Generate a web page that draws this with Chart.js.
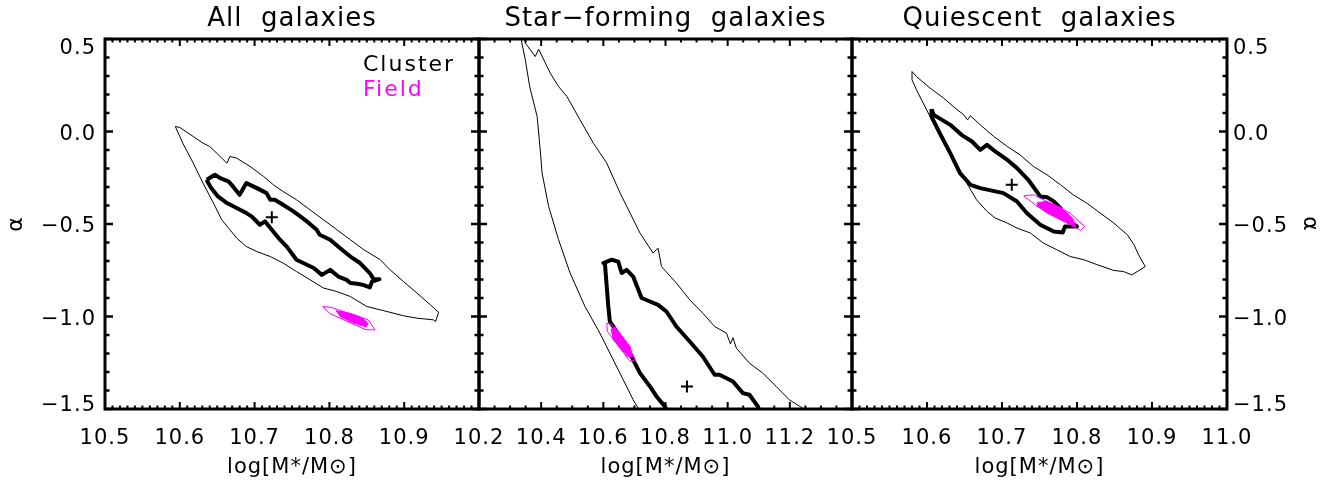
<!DOCTYPE html>
<html>
<head>
<meta charset="utf-8">
<script src="https://cdn.jsdelivr.net/npm/chart.js@4.4.1/dist/chart.umd.min.js"></script>
<style>
  body { margin: 0; background: #fff; }
  #wrap { position: relative; width: 1337px; height: 485px; }
  #wrap canvas { position: absolute; left: 0; top: 0; }
</style>
</head>
<body>
<div id="wrap">
  <canvas id="chart-all" width="1337" height="485"></canvas>
  <canvas id="chart-sf" width="1337" height="485"></canvas>
  <canvas id="chart-q" width="1337" height="485"></canvas>
</div>
<script>
// axis ticks
const xTicksNarrow = [10.5, 10.6, 10.7, 10.8, 10.9, 11.0];
const xTicksWide = [10.2, 10.4, 10.6, 10.8, 11.0, 11.2, 11.4];
const yTicks = [-1.5, -1.0, -0.5, 0.0, 0.5];

// All galaxies: cluster contours [logM, alpha]
const allClusterOuter = [
  [10.594, 0.027], [10.600, 0.022], [10.618, -0.027], [10.631, -0.063], [10.640, -0.081],
  [10.647, -0.108], [10.656, -0.144], [10.663, -0.171], [10.667, -0.135], [10.676, -0.144],
  [10.694, -0.189], [10.712, -0.243], [10.725, -0.288], [10.738, -0.324], [10.756, -0.369],
  [10.774, -0.423], [10.792, -0.477], [10.810, -0.531], [10.828, -0.585], [10.846, -0.639],
  [10.868, -0.693], [10.881, -0.747], [10.899, -0.811], [10.917, -0.873], [10.935, -0.937],
  [10.946, -0.978], [10.942, -1.027], [10.939, -1.018], [10.917, -1.009], [10.899, -0.996],
  [10.872, -0.968], [10.850, -0.946], [10.828, -0.892], [10.810, -0.865], [10.792, -0.846],
  [10.774, -0.801], [10.756, -0.757], [10.738, -0.711], [10.721, -0.676], [10.703, -0.649],
  [10.689, -0.622], [10.676, -0.576], [10.667, -0.531], [10.656, -0.477], [10.645, -0.387],
  [10.631, -0.279], [10.618, -0.171], [10.604, -0.063]
];
const allClusterInner = [
  [10.636, -0.261], [10.647, -0.234], [10.654, -0.252], [10.665, -0.270], [10.671, -0.297],
  [10.680, -0.342], [10.689, -0.279], [10.703, -0.306], [10.716, -0.333], [10.721, -0.369],
  [10.727, -0.369], [10.738, -0.396], [10.752, -0.432], [10.770, -0.486], [10.783, -0.531],
  [10.787, -0.558], [10.801, -0.585], [10.814, -0.630], [10.828, -0.676], [10.841, -0.711],
  [10.854, -0.765], [10.859, -0.798], [10.867, -0.798], [10.857, -0.811], [10.854, -0.843],
  [10.845, -0.829], [10.837, -0.823], [10.828, -0.819], [10.823, -0.802], [10.812, -0.784],
  [10.801, -0.748], [10.790, -0.775], [10.779, -0.738], [10.765, -0.711], [10.756, -0.693],
  [10.743, -0.622], [10.732, -0.576], [10.723, -0.531], [10.714, -0.486], [10.707, -0.504],
  [10.696, -0.459], [10.689, -0.441], [10.676, -0.414], [10.663, -0.387], [10.651, -0.351],
  [10.642, -0.306], [10.637, -0.270]
];
const allClusterBest = [[10.723, -0.463]];
const allFieldOuter = [
  [10.791, -0.946], [10.802, -0.950], [10.852, -1.018], [10.861, -1.072], [10.849, -1.072], [10.801, -0.985]
];
const allFieldInner = [
  [10.809, -0.969], [10.828, -0.983], [10.844, -1.007], [10.852, -1.039], [10.849, -1.056],
  [10.831, -1.034], [10.815, -1.002]
];

// Star-forming galaxies
const sfClusterOuterLeft = [
  [10.333, 0.55], [10.338, 0.478], [10.349, 0.388], [10.363, 0.243], [10.387, 0.081],
  [10.397, -0.099], [10.403, -0.225], [10.424, -0.405], [10.456, -0.585], [10.493, -0.765],
  [10.541, -0.946], [10.589, -1.090], [10.621, -1.198], [10.664, -1.342], [10.696, -1.450],
  [10.702, -1.468], [10.712, -1.495], [10.720, -1.56]
];
const sfClusterOuterRight = [
  [11.250, -1.56], [11.241, -1.495], [11.198, -1.450], [11.156, -1.378], [11.113, -1.306],
  [11.070, -1.252], [11.028, -1.171], [11.017, -1.115], [11.009, -1.148], [10.996, -1.090],
  [10.958, -1.054], [10.920, -0.982], [10.878, -0.910], [10.835, -0.819], [10.787, -0.730],
  [10.776, -0.630], [10.760, -0.657], [10.718, -0.549], [10.686, -0.441], [10.654, -0.333],
  [10.611, -0.171], [10.568, -0.063], [10.525, 0.063], [10.483, 0.189], [10.456, 0.243],
  [10.429, 0.316], [10.392, 0.445], [10.381, 0.405], [10.349, 0.478], [10.343, 0.55]
];
const sfClusterInner = [
  [10.820, -1.56], [10.798, -1.486], [10.771, -1.432], [10.750, -1.378], [10.718, -1.306],
  [10.696, -1.234], [10.675, -1.162], [10.643, -1.081], [10.621, -1.027], [10.616, -0.946],
  [10.605, -0.711], [10.600, -0.711], [10.627, -0.693], [10.648, -0.703], [10.659, -0.765],
  [10.675, -0.748], [10.696, -0.784], [10.723, -0.900], [10.750, -0.919], [10.776, -0.937],
  [10.803, -0.973], [10.835, -1.054], [10.878, -1.135], [10.920, -1.216], [10.958, -1.315],
  [10.974, -1.315], [11.017, -1.351], [11.049, -1.414], [11.070, -1.423], [11.097, -1.486],
  [11.115, -1.56]
];
const sfClusterBest = [[10.869, -1.378]];
const sfFieldOuter = [
  [10.611, -1.036], [10.627, -1.045], [10.696, -1.207], [10.702, -1.234], [10.686, -1.243], [10.613, -1.081]
];
const sfFieldInner = [
  [10.625, -1.068], [10.637, -1.057], [10.686, -1.162], [10.694, -1.216], [10.680, -1.219], [10.632, -1.126]
];

// Quiescent galaxies
const qClusterOuter = [
  [10.580, 0.324], [10.586, 0.297], [10.604, 0.235], [10.622, 0.181], [10.635, 0.135],
  [10.649, 0.090], [10.654, 0.063], [10.658, 0.085], [10.671, 0.036], [10.689, -0.027],
  [10.707, -0.081], [10.724, -0.126], [10.742, -0.189], [10.760, -0.234], [10.778, -0.288],
  [10.795, -0.342], [10.813, -0.387], [10.831, -0.441], [10.849, -0.495], [10.867, -0.558],
  [10.876, -0.612], [10.882, -0.666], [10.891, -0.730], [10.884, -0.748], [10.873, -0.775],
  [10.862, -0.757], [10.849, -0.751], [10.827, -0.720], [10.809, -0.693], [10.791, -0.676],
  [10.773, -0.639], [10.755, -0.603], [10.738, -0.549], [10.720, -0.522], [10.707, -0.495],
  [10.691, -0.468], [10.680, -0.432], [10.666, -0.369], [10.653, -0.279], [10.640, -0.189],
  [10.622, -0.063], [10.604, 0.081], [10.586, 0.225], [10.580, 0.279]
];
const qClusterInner = [
  [10.606, 0.121], [10.609, 0.090], [10.631, 0.036], [10.646, -0.018], [10.660, -0.054],
  [10.671, -0.099], [10.680, -0.072], [10.691, -0.108], [10.707, -0.153], [10.720, -0.198],
  [10.735, -0.261], [10.751, -0.351], [10.760, -0.355], [10.769, -0.378], [10.778, -0.414],
  [10.784, -0.459], [10.793, -0.495], [10.800, -0.513], [10.784, -0.513], [10.781, -0.546],
  [10.769, -0.541], [10.751, -0.504], [10.733, -0.441], [10.720, -0.378], [10.702, -0.333],
  [10.671, -0.306], [10.658, -0.288], [10.644, -0.225], [10.631, -0.117], [10.617, -0.009],
  [10.606, 0.081]
];
const qClusterBest = [[10.713, -0.288]];
const qFieldOuter = [
  [10.729, -0.348], [10.742, -0.342], [10.791, -0.441], [10.810, -0.513], [10.805, -0.535], [10.747, -0.405]
];
const qFieldInner = [
  [10.747, -0.384], [10.760, -0.378], [10.780, -0.414], [10.795, -0.473], [10.798, -0.513],
  [10.787, -0.495], [10.760, -0.441], [10.748, -0.405]
];

const FONT = "'DejaVu Sans', sans-serif";
const MAGENTA = '#ff00ff';
Chart.defaults.font.family = FONT;
Chart.defaults.color = '#000';

const pts = arr => arr.map(([x, y]) => ({ x, y }));
const ring = arr => pts(arr.concat([arr[0]]));

function line(data, width, color, order) {
  return {
    data, showLine: true, borderColor: color, borderWidth: width,
    borderJoinStyle: 'round', pointRadius: 0, clip: 0, order
  };
}
function filled(data) {
  return {
    data, showLine: true, borderColor: MAGENTA, backgroundColor: MAGENTA, borderWidth: 1,
    fill: 'shape', pointRadius: 0, clip: 0, order: 1
  };
}
function best(arr) {
  return {
    data: pts(arr), pointStyle: 'cross', pointRadius: 6, borderWidth: 2,
    borderColor: '#000', showLine: false, order: 0
  };
}

// end labels sit inside the axis range, like the original plot
function fmtY(v) {
  const s = (v < 0 ? '\u2212' : '') + Math.abs(v).toFixed(1);
  if (v >= yTicks[yTicks.length - 1]) return ['', s];
  if (v <= yTicks[0]) return [s, ''];
  return s;
}

// letter spacing for the vector-font look
const spacing = {
  id: 'spacing',
  beforeDraw(chart) { chart.ctx.letterSpacing = '1px'; }
};

// box with inward major / minor ticks on all four sides
function makeFrame(spec) {
  const marks = (min, max, minor, major) => {
    const n = Math.round((max - min) / minor);
    const every = Math.round(major / minor);
    const out = [];
    for (let i = 0; i <= n; i++) out.push([min + i * minor, i % every === 0]);
    return out;
  };
  return {
    id: 'frame',
    afterDatasetsDraw(chart) {
      const { ctx, chartArea: a, scales: { x, y } } = chart;
      ctx.save();
      ctx.strokeStyle = '#000';
      ctx.lineWidth = 2;
      marks(x.min, x.max, spec.xMinor, spec.xMajor).forEach(([v, major]) => {
        const px = x.getPixelForValue(v);
        const len = major ? 7 : 3.5;
        ctx.beginPath();
        ctx.moveTo(px, a.bottom); ctx.lineTo(px, a.bottom - len);
        ctx.moveTo(px, a.top); ctx.lineTo(px, a.top + len);
        ctx.stroke();
      });
      ctx.lineWidth = 2.5;
      marks(y.min, y.max, spec.yMinor, spec.yMajor).forEach(([v, major]) => {
        const py = y.getPixelForValue(v);
        const len = major ? 8 : 4.5;
        ctx.beginPath();
        ctx.moveTo(a.left, py); ctx.lineTo(a.left + len, py);
        ctx.moveTo(a.right, py); ctx.lineTo(a.right - len, py);
        ctx.stroke();
      });
      ctx.lineWidth = 3;
      ctx.strokeRect(a.left, a.top, a.right - a.left, a.bottom - a.top);
      ctx.restore();
    }
  };
}

const legendText = {
  id: 'legendText',
  afterDraw(chart) {
    const ctx = chart.ctx;
    ctx.save();
    ctx.letterSpacing = '2px';
    ctx.font = '22px ' + FONT;
    ctx.textAlign = 'left';
    ctx.textBaseline = 'alphabetic';
    ctx.fillStyle = '#000';
    ctx.fillText('Cluster', 363, 71);
    ctx.fillStyle = MAGENTA;
    ctx.fillText('Field', 363, 96);
    ctx.restore();
  }
};

function xScale(ticks, hideAbove) {
  return {
    type: 'linear', position: 'bottom', min: ticks[0], max: ticks[ticks.length - 1],
    afterFit: s => { s.height = 76; },
    afterBuildTicks: s => { s.ticks = ticks.map(v => ({ value: v })); },
    grid: { display: false, drawTicks: false },
    border: { display: false },
    ticks: {
      padding: 17, maxRotation: 0, autoSkip: false, font: { size: 21 },
      callback: v => (v > hideAbove ? '' : v.toFixed(1))
    },
    title: { display: true, text: 'log[M*/M\u2299]', font: { size: 21 }, padding: { top: 0, bottom: 5 } }
  };
}

function yScale(position, show) {
  return {
    type: 'linear', position, min: yTicks[0], max: yTicks[yTicks.length - 1], display: show,
    afterFit: s => { s.width = !show ? 0 : position === 'left' ? 105 : 110; },
    afterBuildTicks: s => { s.ticks = yTicks.map(v => ({ value: v })); },
    grid: { display: false, drawTicks: false },
    border: { display: false },
    ticks: {
      padding: position === 'left' ? 9 : 6, labelOffset: 3,
      font: { size: 21, lineHeight: 0.6 }, callback: fmtY
    },
    title: {
      display: true, text: '\u03b1', font: { size: 22 },
      padding: position === 'left' ? { top: 3, bottom: 0 } : { top: 14, bottom: 0 }
    }
  };
}

function makePanel(id, cfg) {
  return new Chart(document.getElementById(id), {
    type: 'scatter',
    data: { datasets: cfg.datasets },
    options: {
      responsive: false,
      animation: false,
      events: [],
      layout: { padding: cfg.padding },
      plugins: {
        legend: { display: false },
        tooltip: { enabled: false },
        title: {
          display: true, text: cfg.title, fullSize: false,
          font: { size: 26, weight: 'normal', lineHeight: 1 }, padding: { top: 6, bottom: 7 }
        }
      },
      scales: { x: cfg.x, y: cfg.y }
    },
    plugins: [spacing, makeFrame(cfg.frame)].concat(cfg.extra || [])
  });
}

makePanel('chart-all', {
  title: 'All  galaxies',
  padding: { left: 0, right: 858, top: 0, bottom: 0 },
  frame: { xMinor: 0.01, xMajor: 0.1, yMinor: 0.1, yMajor: 0.5 },
  x: xScale(xTicksNarrow, 10.95),
  y: yScale('left', true),
  extra: [legendText],
  datasets: [
    best(allClusterBest),
    filled(ring(allFieldInner)),
    line(ring(allFieldOuter), 1, MAGENTA, 2),
    line(ring(allClusterInner), 4, '#000', 3),
    line(ring(allClusterOuter), 1, '#000', 4)
  ]
});

makePanel('chart-sf', {
  title: 'Star\u2212forming  galaxies',
  padding: { left: 479, right: 485, top: 0, bottom: 0 },
  frame: { xMinor: 0.05, xMajor: 0.2, yMinor: 0.1, yMajor: 0.5 },
  x: xScale(xTicksWide, 11.35),
  y: yScale('left', false),
  datasets: [
    best(sfClusterBest),
    filled(ring(sfFieldInner)),
    line(ring(sfFieldOuter), 1, MAGENTA, 2),
    line(pts(sfClusterInner), 4, '#000', 3),
    line(pts(sfClusterOuterLeft.concat(sfClusterOuterRight)), 1, '#000', 4)
  ]
});

makePanel('chart-q', {
  title: 'Quiescent  galaxies',
  padding: { left: 852, right: 0, top: 0, bottom: 0 },
  frame: { xMinor: 0.01, xMajor: 0.1, yMinor: 0.1, yMajor: 0.5 },
  x: xScale(xTicksNarrow, 11.5),
  y: yScale('right', true),
  datasets: [
    best(qClusterBest),
    filled(ring(qFieldInner)),
    line(ring(qFieldOuter), 1, MAGENTA, 2),
    line(ring(qClusterInner), 4, '#000', 3),
    line(ring(qClusterOuter), 1, '#000', 4)
  ]
});
</script>
</body>
</html>
